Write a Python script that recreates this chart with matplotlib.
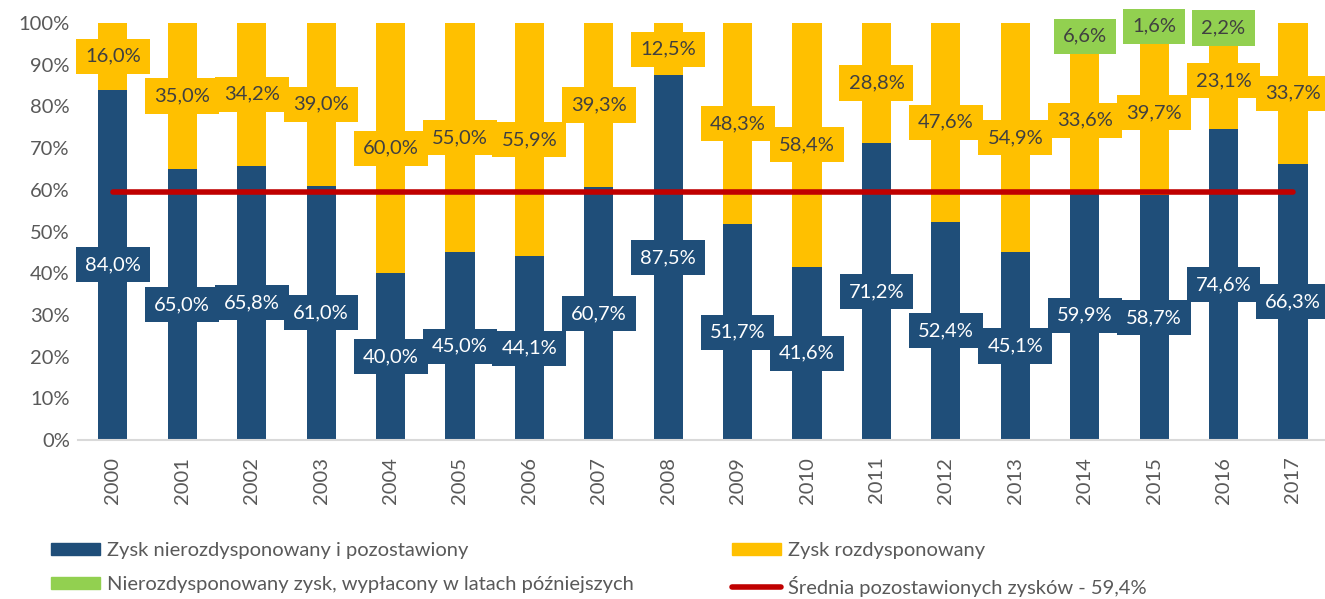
import numpy as np
import matplotlib.pyplot as plt
from matplotlib.patches import Patch
from matplotlib.lines import Line2D

plt.rcParams['font.family'] = ['Lato', 'DejaVu Sans']

# Dane
lata = ['2000', '2001', '2002', '2003', '2004', '2005', '2006', '2007', '2008',
        '2009', '2010', '2011', '2012', '2013', '2014', '2015', '2016', '2017']
pozostawiony = [84.0, 65.0, 65.8, 61.0, 40.0, 45.0, 44.1, 60.7, 87.5,
                51.7, 41.6, 71.2, 52.4, 45.1, 59.9, 58.7, 74.6, 66.3]
rozdysponowany = [16.0, 35.0, 34.2, 39.0, 60.0, 55.0, 55.9, 39.3, 12.5,
                  48.3, 58.4, 28.8, 47.6, 54.9, 33.6, 39.7, 23.1, 33.7]
wyplacony_pozniej = [0, 0, 0, 0, 0, 0, 0, 0, 0,
                     0, 0, 0, 0, 0, 6.6, 1.6, 2.2, 0]
srednia = 59.4

nazwy = ['Zysk nierozdysponowany i pozostawiony', 'Zysk rozdysponowany',
         'Nierozdysponowany zysk, wypłacony w latach późniejszych',
         'Średnia pozostawionych zysków - 59,4%']

# Kolory
NIEBIESKI = '#1F4E79'
ZOLTY = '#FFC000'
ZIELONY = '#92D050'
CZERWONY = '#C00000'
TEKST = '#404040'

fig = plt.figure(figsize=(13.25, 5.99), dpi=100)
ax = fig.add_axes([0.059, 0.2654, 0.943, 0.6962])

x = np.arange(len(lata))
b1 = np.array(pozostawiony) / 100
b2 = np.array(rozdysponowany) / 100
b3 = np.array(wyplacony_pozniej) / 100
szer = 0.42

ax.bar(x, b1, szer, color=NIEBIESKI, zorder=2)
ax.bar(x, b2, szer, bottom=b1, color=ZOLTY, zorder=2)
ax.bar(x, b3, szer, bottom=b1 + b2, color=ZIELONY, zorder=2)

# Linia średniej
ax.plot([x[0], x[-1]], [srednia / 100, srednia / 100], color=CZERWONY,
        lw=4, solid_capstyle='round', zorder=3)

# Etykiety danych w ramkach
def etykieta(xi, yi, wartosc, tlo, kolor):
    ax.text(xi, yi, f'{wartosc:.1f}%'.replace('.', ','), ha='center', va='center',
            fontsize=14.5, color=kolor, zorder=5, clip_on=False,
            bbox=dict(boxstyle='square,pad=0.45', fc=tlo, ec='none'))

for i in range(len(lata)):
    etykieta(x[i], b1[i] / 2, pozostawiony[i], NIEBIESKI, 'white')
    etykieta(x[i], b1[i] + b2[i] / 2, rozdysponowany[i], ZOLTY, TEKST)
    if wyplacony_pozniej[i] > 0:
        etykieta(x[i], b1[i] + b2[i] + b3[i] / 2, wyplacony_pozniej[i], ZIELONY, TEKST)

ax.set_xlim(-0.5, len(lata) - 0.5)
ax.set_ylim(0, 1)
ax.set_yticks(np.arange(0, 1.01, 0.1))
ax.set_yticklabels([f'{int(v)}%' for v in np.arange(0, 101, 10)])
ax.set_xticks(x)
ax.set_xticklabels(lata, rotation=90)
ax.tick_params(axis='both', length=0, labelsize=14.5, colors='#595959')
ax.tick_params(axis='x', pad=12)
ax.tick_params(axis='y', pad=6)
for s in ['top', 'right', 'left']:
    ax.spines[s].set_visible(False)
ax.spines['bottom'].set_color('#D9D9D9')
ax.spines['bottom'].set_linewidth(1.5)

# Legenda
uchwyty = [Patch(color=NIEBIESKI), Patch(color=ZIELONY),
           Patch(color=ZOLTY), Line2D([0], [0], color=CZERWONY, lw=4, solid_capstyle='round')]
etyk = [nazwy[0], nazwy[2], nazwy[1], nazwy[3]]
fig.legend(uchwyty, etyk, ncol=2, loc='lower left', bbox_to_anchor=(0.025, -0.027),
           frameon=False, fontsize=14.5, labelcolor='#595959', handlelength=2.4,
           handleheight=0.55, handletextpad=0.35, columnspacing=4.9, labelspacing=0.85)

fig.savefig('out.png', dpi=100)
